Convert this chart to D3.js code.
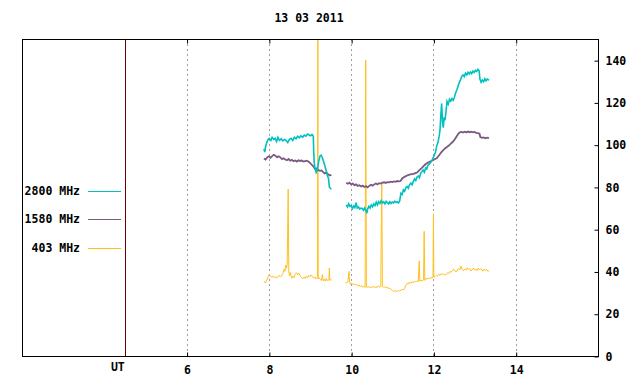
<!DOCTYPE html>
<html>
<head>
<meta charset="utf-8">
<script src="https://cdn.jsdelivr.net/npm/d3@7"></script>
<style>
  body { margin: 0; background: #fff; }
  svg { display: block; }
  text { font-family: "DejaVu Sans Mono", monospace; font-weight: bold; font-size: 11.5px; fill: #000; }
</style>
</head>
<body>
<svg id="chart" width="640" height="384"></svg>
<script>
// Title and axis labels
const title = "13 03 2011";
const hourTicks = [6, 8, 10, 12, 14];
const valueTicks = [0, 20, 40, 60, 80, 100, 120, 140];
const utHour = 4.5;

// Legend entries
const legendLabels = ["2800 MHz", "1580 MHz", "403 MHz"];
const legendColors = ["#00c0c0", "#7a5a80", "#ffbf20"];

// 2800 MHz flux, [hour UT, value], two observing sessions
const mhz2800a = [
  [7.88, 98], [7.9, 96.5], [7.92, 99], [7.95, 101], [7.98, 102.5], [8.01, 103], [8.05, 102],
  [8.08, 103.5], [8.12, 102.5], [8.15, 103], [8.19, 101.5], [8.22, 103.5], [8.26, 102],
  [8.3, 102.8], [8.34, 101.8], [8.38, 102.5], [8.42, 102], [8.46, 101], [8.5, 102.5],
  [8.54, 103], [8.58, 102], [8.62, 103.5], [8.66, 102.8], [8.7, 104], [8.74, 103.2],
  [8.78, 104.2], [8.82, 103.5], [8.86, 104.5], [8.9, 104], [8.94, 105], [8.98, 104.6],
  [9.02, 104.2], [9.05, 104.8], [9.08, 104], [9.09, 97], [9.1, 92], [9.12, 89], [9.15, 86.8],
  [9.18, 88], [9.21, 92], [9.24, 94.5], [9.27, 95], [9.3, 93.8], [9.33, 92], [9.36, 90],
  [9.39, 88], [9.42, 85.5], [9.45, 84], [9.47, 80], [9.49, 79.5], [9.52, 79]
];
const mhz2800b = [
  [9.88, 71.5], [9.91, 70.5], [9.94, 72], [9.97, 70.8], [10.0, 71.2], [10.03, 69.8],
  [10.06, 71], [10.09, 70.2], [10.12, 72.5], [10.15, 70], [10.18, 70.5], [10.21, 69.5],
  [10.24, 70], [10.27, 69.8], [10.3, 69], [10.33, 70], [10.36, 68.8], [10.38, 67.5],
  [10.4, 69.5], [10.43, 70.8], [10.46, 70], [10.49, 71.5], [10.52, 70.6], [10.55, 72],
  [10.58, 71.2], [10.61, 72.8], [10.64, 71.5], [10.67, 73], [10.7, 72.2], [10.73, 73.5],
  [10.76, 72.4], [10.79, 73], [10.82, 72], [10.85, 73.2], [10.88, 72.6], [10.91, 72],
  [10.94, 73], [10.97, 72.2], [11.0, 72.8], [11.03, 72.4], [11.06, 73.2], [11.09, 72.6],
  [11.12, 73], [11.15, 72.4], [11.18, 73.4], [11.21, 77], [11.24, 76.4], [11.27, 78.6],
  [11.3, 78], [11.33, 79.6], [11.36, 80.2], [11.39, 79.4], [11.42, 81], [11.45, 81.8],
  [11.48, 81], [11.51, 82.5], [11.54, 83.8], [11.57, 83], [11.6, 84.6], [11.63, 85.2],
  [11.66, 84.4], [11.69, 86.5], [11.72, 87.2], [11.75, 88], [11.78, 87], [11.81, 89],
  [11.84, 88.6], [11.87, 90.4], [11.9, 90.8], [11.93, 91.6], [11.96, 92.4], [11.99, 93.6],
  [12.02, 95], [12.05, 96.4], [12.08, 99.5], [12.11, 101], [12.14, 104], [12.16, 107],
  [12.18, 114], [12.2, 119.5], [12.22, 111], [12.24, 108], [12.26, 113], [12.28, 111.5],
  [12.3, 114.5], [12.33, 120.5], [12.36, 119.2], [12.39, 121.5], [12.42, 120.6],
  [12.45, 121.8], [12.48, 121], [12.51, 122.4], [12.54, 124.5], [12.57, 126], [12.6, 127.8],
  [12.63, 129.5], [12.66, 130.8], [12.69, 132.4], [12.72, 133], [12.75, 132.2], [12.78, 133.8],
  [12.81, 133], [12.84, 134.2], [12.87, 133.4], [12.9, 134.4], [12.93, 133.6], [12.96, 134.8],
  [12.99, 134.2], [13.02, 135.2], [13.05, 134.6], [13.08, 135.6], [13.11, 135], [13.13, 131],
  [13.16, 129.5], [13.19, 130.6], [13.22, 129.8], [13.25, 131.2], [13.28, 130.2],
  [13.31, 131], [13.35, 130.5]
];

// 1580 MHz flux
const mhz1580a = [
  [7.88, 93.5], [7.92, 93], [7.96, 94], [8.0, 94.5], [8.04, 93.8], [8.08, 94.6], [8.12, 95.2],
  [8.16, 94.8], [8.2, 94], [8.24, 94.5], [8.28, 94], [8.32, 93.2], [8.36, 93.6], [8.4, 93],
  [8.44, 92.6], [8.48, 93.2], [8.52, 92.4], [8.56, 92.8], [8.6, 92.2], [8.64, 92.5],
  [8.68, 92], [8.72, 92.6], [8.76, 92.3], [8.8, 92.5], [8.84, 92], [8.88, 92.2], [8.92, 92.4],
  [8.96, 92], [9.0, 91.4], [9.04, 90.5], [9.08, 89.8], [9.12, 88.5], [9.16, 88.8], [9.2, 88],
  [9.24, 87.6], [9.28, 87.8], [9.32, 87], [9.36, 86.4], [9.4, 86.8], [9.44, 86], [9.48, 85.4],
  [9.52, 85.8]
];
const mhz1580b = [
  [9.88, 82], [9.92, 81.5], [9.96, 82], [10.0, 81.2], [10.04, 81.6], [10.08, 80.8],
  [10.12, 81.2], [10.16, 80.5], [10.2, 80.8], [10.24, 80.2], [10.28, 80.6], [10.32, 80],
  [10.36, 80.4], [10.4, 79.8], [10.44, 80.5], [10.48, 81], [10.52, 80.6], [10.56, 81.2],
  [10.6, 81.6], [10.64, 81.2], [10.68, 81.8], [10.72, 81.6], [10.76, 82], [10.8, 82.2],
  [10.84, 81.9], [10.88, 82.3], [10.92, 82.2], [10.96, 82.5], [11.0, 82.3], [11.04, 82.6],
  [11.08, 82.4], [11.12, 82.8], [11.16, 82.6], [11.2, 82.8], [11.24, 84], [11.28, 84.6],
  [11.32, 85], [11.36, 85.4], [11.4, 85.7], [11.44, 85.9], [11.48, 86.1], [11.52, 86.2],
  [11.56, 86.5], [11.6, 86.8], [11.64, 87.6], [11.68, 88.3], [11.72, 89], [11.76, 89.8],
  [11.8, 90.6], [11.84, 91.2], [11.88, 91.6], [11.92, 92], [11.96, 92.4], [12.0, 92.8],
  [12.04, 93.2], [12.08, 93.6], [12.12, 94.5], [12.16, 95.6], [12.2, 96.6], [12.24, 97.4],
  [12.28, 98.2], [12.32, 98.8], [12.36, 99.4], [12.4, 100], [12.44, 100.8], [12.48, 101.5],
  [12.52, 102.6], [12.56, 103.8], [12.6, 105], [12.64, 105.8], [12.68, 106], [12.72, 105.7],
  [12.76, 106.1], [12.8, 105.8], [12.84, 106.2], [12.88, 105.9], [12.92, 106.1], [12.96, 105.8],
  [13.0, 106], [13.04, 105.6], [13.08, 105.5], [13.12, 105.2], [13.14, 103.6], [13.18, 103.2],
  [13.22, 103.4], [13.26, 103], [13.3, 103.3], [13.35, 103.1]
];

// 403 MHz flux (spikes included)
const mhz403a = [
  [7.88, 35.5], [7.92, 34.5], [7.95, 36], [7.98, 37.5], [8.01, 38.5], [8.04, 38], [8.07, 37.2],
  [8.1, 37.8], [8.13, 37], [8.16, 37.5], [8.19, 36.8], [8.22, 37.6], [8.25, 38.2], [8.28, 37.4],
  [8.31, 38], [8.34, 39], [8.37, 41], [8.39, 40], [8.41, 43], [8.43, 41.5], [8.445, 43],
  [8.455, 57], [8.47, 79], [8.485, 40], [8.5, 38], [8.52, 39.5], [8.54, 37.6], [8.56, 36.8],
  [8.58, 37.8], [8.61, 37], [8.64, 38.6], [8.67, 39.4], [8.7, 38.5], [8.73, 39.2], [8.76, 37.8],
  [8.79, 37.2], [8.82, 36.5], [8.85, 37.4], [8.88, 36.6], [8.91, 37.8], [8.94, 37], [8.97, 38.2],
  [9.0, 37.5], [9.03, 38.4], [9.06, 37.6], [9.09, 36.8], [9.12, 37.4], [9.15, 36.4], [9.18, 37],
  [9.19, 160], [9.2, 36.5], [9.22, 37], [9.25, 36.2], [9.28, 35.8], [9.3, 38.5], [9.32, 35.6],
  [9.35, 36.4], [9.37, 35.4], [9.4, 36.8], [9.42, 35.6], [9.46, 36], [9.47, 41.6], [9.48, 35.8],
  [9.5, 36.2], [9.53, 35.8]
];
const mhz403b = [
  [9.86, 35], [9.88, 34.5], [9.92, 35], [9.95, 40], [9.96, 35.5], [9.98, 34], [10.01, 34.5],
  [10.04, 33.8], [10.07, 34.2], [10.1, 33.6], [10.13, 33.9], [10.16, 33.2], [10.19, 33.6],
  [10.22, 32.8], [10.25, 33.4], [10.28, 32.6], [10.31, 33], [10.34, 32.4], [10.355, 140],
  [10.37, 32.8], [10.39, 32.4], [10.42, 33], [10.45, 32.2], [10.48, 32.8], [10.51, 32.4],
  [10.54, 33], [10.57, 32.2], [10.6, 32.8], [10.63, 32.4], [10.66, 33.2], [10.69, 32.6],
  [10.72, 32.8], [10.735, 66], [10.745, 82], [10.76, 33], [10.79, 32.4], [10.82, 32.8],
  [10.85, 32.2], [10.88, 32.6], [10.91, 31.8], [10.94, 32.2], [10.97, 31.5], [11.0, 31],
  [11.03, 30.6], [11.06, 30.9], [11.09, 30.5], [11.12, 30.8], [11.15, 31], [11.18, 30.6],
  [11.21, 31.2], [11.24, 31.6], [11.27, 31.2], [11.3, 32], [11.33, 33.5], [11.36, 34.4],
  [11.39, 34], [11.42, 35], [11.45, 34.4], [11.48, 35.2], [11.51, 34.6], [11.54, 35.4],
  [11.57, 35], [11.6, 35.6], [11.63, 35.2], [11.655, 45], [11.67, 35.4], [11.7, 36],
  [11.73, 35.4], [11.76, 36.4], [11.775, 59], [11.79, 35.8], [11.82, 36.8], [11.85, 36.4],
  [11.88, 37], [11.91, 36.6], [11.94, 37.2], [11.97, 36.8], [11.99, 37.4], [12.0, 67],
  [12.01, 37.2], [12.04, 37.6], [12.07, 38.2], [12.1, 37.8], [12.13, 38.6], [12.16, 38.2],
  [12.19, 39], [12.22, 38.6], [12.25, 38.8], [12.28, 38.2], [12.31, 38.6], [12.34, 39.4],
  [12.37, 39], [12.4, 40], [12.43, 39.6], [12.46, 40.4], [12.49, 41.2], [12.52, 40.2],
  [12.55, 39.8], [12.58, 40.6], [12.61, 41.5], [12.64, 40.8], [12.67, 42.5], [12.7, 41],
  [12.73, 40.4], [12.76, 41.2], [12.79, 40.6], [12.82, 41.8], [12.85, 40.8], [12.88, 41.4],
  [12.91, 40.2], [12.94, 40.8], [12.97, 41.6], [13.0, 40.6], [13.03, 41.2], [13.06, 40.4],
  [13.09, 41.6], [13.12, 40.8], [13.15, 41.4], [13.18, 40.6], [13.21, 40.2], [13.24, 41.2],
  [13.27, 40.4], [13.3, 40.8], [13.33, 40], [13.35, 40.5]
];

const series = [
  { color: legendColors[2], width: 1, segments: [mhz403a, mhz403b] },
  { color: legendColors[1], width: 1.8, segments: [mhz1580a, mhz1580b] },
  { color: legendColors[0], width: 1.6, segments: [mhz2800a, mhz2800b] }
];

const plotLeft = 22, plotRight = 598, plotTop = 39, plotBottom = 356;
const tickLen = 4;

const x = d3.scaleLinear().domain([2, 16]).range([plotLeft, plotRight]);
const y = d3.scaleLinear().domain([0, 150]).range([plotBottom, plotTop]);

const svg = d3.select("#chart");

svg.append("defs").append("clipPath").attr("id", "plot-clip")
  .append("rect")
  .attr("x", plotLeft).attr("y", plotTop)
  .attr("width", plotRight - plotLeft).attr("height", plotBottom - plotTop);

// dashed hour grid
svg.append("g")
  .selectAll("line")
  .data(hourTicks)
  .join("line")
  .attr("x1", (d) => Math.round(x(d)) + 0.5)
  .attr("x2", (d) => Math.round(x(d)) + 0.5)
  .attr("y1", plotTop)
  .attr("y2", plotBottom)
  .attr("stroke", "#a0a0a0")
  .attr("stroke-dasharray", "2,3");

// data lines
const line = d3.line().x((d) => x(d[0])).y((d) => y(d[1]));
const plot = svg.append("g").attr("clip-path", "url(#plot-clip)");
series.forEach((s) => {
  plot.append("g")
    .selectAll("path")
    .data(s.segments)
    .join("path")
    .attr("d", line)
    .attr("fill", "none")
    .attr("stroke", s.color)
    .attr("stroke-width", s.width);
});

// UT marker line
svg.append("line")
  .attr("x1", Math.round(x(utHour)) + 0.5)
  .attr("x2", Math.round(x(utHour)) + 0.5)
  .attr("y1", plotTop)
  .attr("y2", plotBottom)
  .attr("stroke", "#6a0000");

// frame
svg.append("rect")
  .attr("x", plotLeft + 0.5).attr("y", plotTop + 0.5)
  .attr("width", plotRight - plotLeft).attr("height", plotBottom - plotTop)
  .attr("fill", "none")
  .attr("stroke", "#000");

// bottom and top ticks (inward)
const xAxisBottom = d3.axisBottom(x).tickValues(hourTicks).tickSize(-tickLen).tickPadding(9).tickFormat(d3.format("d"));
svg.append("g")
  .attr("transform", `translate(0.5, ${plotBottom + 0.5})`)
  .call(xAxisBottom)
  .call((g) => g.select(".domain").remove())
  .call((g) => g.selectAll("text").attr("font-size", null).attr("font-family", null).attr("fill", "#000"));

svg.append("g")
  .attr("transform", `translate(0.5, ${plotTop + 0.5})`)
  .call(d3.axisTop(x).tickValues(hourTicks).tickSize(-tickLen).tickFormat(""))
  .call((g) => g.select(".domain").remove());

// right value axis
svg.append("g")
  .attr("transform", `translate(${plotRight + 0.5}, 0.5)`)
  .call(d3.axisRight(y).tickValues(valueTicks).tickSize(-tickLen).tickPadding(7))
  .call((g) => g.select(".domain").remove())
  .call((g) => g.selectAll("text").attr("font-size", null).attr("font-family", null).attr("fill", "#000"));

svg.selectAll(".tick line").attr("stroke", "#000");

// UT label
svg.append("text")
  .attr("x", x(utHour) - 7)
  .attr("y", 371)
  .attr("text-anchor", "middle")
  .text("UT");

// title
svg.append("text")
  .attr("x", 309)
  .attr("y", 22)
  .attr("text-anchor", "middle")
  .text(title);

// legend
const legendY = [191, 219, 248];
const legend = svg.append("g")
  .selectAll("g")
  .data(legendLabels)
  .join("g")
  .attr("transform", (d, i) => `translate(0, ${legendY[i]})`);

legend.append("text")
  .attr("x", 80)
  .attr("dy", "0.35em")
  .attr("text-anchor", "end")
  .text((d) => d);

legend.append("line")
  .attr("x1", 88)
  .attr("x2", 121)
  .attr("y1", 0.5)
  .attr("y2", 0.5)
  .attr("stroke", (d, i) => legendColors[i]);
</script>
</body>
</html>
